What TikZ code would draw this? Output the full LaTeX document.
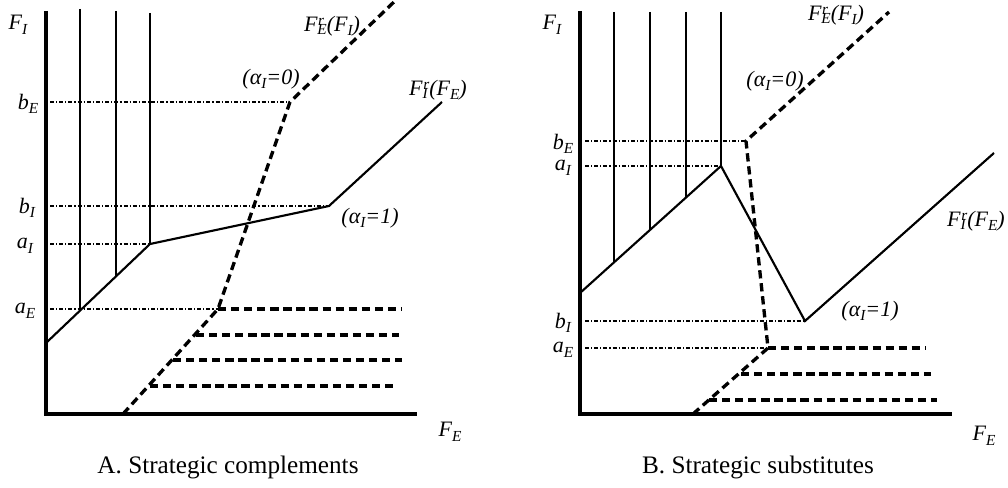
\documentclass[tikz,border=0pt]{standalone}
\usepackage{fontspec}
\setmainfont{Liberation Serif}
\newcommand\sub[1]{\raisebox{-0.45ex}{\fontsize{11.5}{13}\selectfont #1}}
\newcommand\subsup[2]{{\fontsize{11.5}{13}\selectfont\setbox0\hbox{\raisebox{-0.5ex}{#1}}\setbox2\hbox{\raisebox{0.8ex}{\kern0.5pt#2}}\ifdim\wd0>\wd2 \wd2=0pt\box2\box0\else\wd0=0pt\box0\box2\fi}}
\begin{document}
\begin{tikzpicture}[x=0.75pt,y=-0.75pt,
  axis/.style={line width=2.8pt},
  vline/.style={line width=1.5pt},
  solidcurve/.style={line width=1.6pt,line join=miter},
  dashcurve/.style={line width=2.5pt,dash pattern=on 6.2pt off 3.6pt},
  dashdotline/.style={line width=1pt,dash pattern=on 3pt off 1.5pt on 0.9pt off 1.5pt},
  lbl/.style={font=\fontsize{16.5}{19}\selectfont\itshape,inner sep=0pt},
  captionlbl/.style={font=\fontsize{18.9}{22}\selectfont,inner sep=0pt}]
\useasboundingbox (0,0) rectangle (1008,488);
% ---------------- Panel A ----------------
\coordinate (At) at (46,11);
\coordinate (Ao) at (46,414);
\coordinate (Ar) at (417,414);
\draw[axis] (At) -- (Ao) -- (Ar);
\coordinate (Av1t) at (80,9);   \coordinate (Av1b) at (80,310);
\coordinate (Av2t) at (116,11); \coordinate (Av2b) at (116,277);
\coordinate (Av3t) at (150,13); \coordinate (Av3b) at (150,244);
\draw[vline] (Av1t) -- (Av1b);
\draw[vline] (Av2t) -- (Av2b);
\draw[vline] (Av3t) -- (Av3b);
\coordinate (As0) at (46,343);
\coordinate (As1) at (150,244);
\coordinate (As2) at (329,206);
\coordinate (As3) at (442,102);
\draw[solidcurve] (As0) -- (As1) -- (As2) -- (As3);
\coordinate (AbE) at (50,102);
\coordinate (AbI) at (50,206);
\coordinate (AaI) at (50,244);
\coordinate (AaE) at (50,309);
\coordinate (Ad0) at (123,414);
\coordinate (Ad1) at (218,309);
\coordinate (Ad2) at (290,102);
\coordinate (Ad3) at (396,0);
\draw[dashdotline] (AbE) -- (Ad2);
\draw[dashdotline] (AbI) -- (As2);
\draw[dashdotline] (AaI) -- (As1);
\draw[dashdotline] (AaE) -- (Ad1);
\draw[dashcurve] (Ad0) -- (Ad1) -- (Ad2) -- (Ad3);
\coordinate (Ah1e) at (402,309);
\coordinate (Ah2s) at (196,335); \coordinate (Ah2e) at (399,335);
\coordinate (Ah3s) at (173,360); \coordinate (Ah3e) at (402,360);
\coordinate (Ah4s) at (150,386); \coordinate (Ah4e) at (396,386);
\draw[dashcurve] (Ad1) -- (Ah1e);
\draw[dashcurve] (Ah2s) -- (Ah2e);
\draw[dashcurve] (Ah3s) -- (Ah3e);
\draw[dashcurve] (Ah4s) -- (Ah4e);
\node[lbl] (AFI) at (18,25) {F\sub{I}};
\node[lbl] (AbEl) at (28,104) {b\sub{E}};
\node[lbl] (AbIl) at (27,208) {b\sub{I}};
\node[lbl] (AaIl) at (25,246) {a\sub{I}};
\node[lbl] (AaEl) at (25,311) {a\sub{E}};
\node[lbl] (Aal0) at (271,79) {(α\sub{I}=0)};
\node[lbl] (Aal1) at (370,218) {(α\sub{I}=1)};
\node[lbl] (AFEr) at (332,26) {F\subsup{E}{r}(F\sub{I})};
\node[lbl] (AFIr) at (438,90) {F\subsup{I}{r}(F\sub{E})};
\node[lbl] (AFE) at (450,432) {F\sub{E}};
\node[captionlbl] (Acap) at (228,467) {A. Strategic complements};
% ---------------- Panel B ----------------
\coordinate (Bt) at (580,11);
\coordinate (Bo) at (580,414);
\coordinate (Br) at (952,414);
\draw[axis] (Bt) -- (Bo) -- (Br);
\coordinate (Bv1t) at (614,12); \coordinate (Bv1b) at (614,263);
\coordinate (Bv2t) at (650,12); \coordinate (Bv2b) at (650,230);
\coordinate (Bv3t) at (686,12); \coordinate (Bv3b) at (686,198);
\coordinate (Bv4t) at (721,12); \coordinate (Bv4b) at (721,167);
\draw[vline] (Bv1t) -- (Bv1b);
\draw[vline] (Bv2t) -- (Bv2b);
\draw[vline] (Bv3t) -- (Bv3b);
\draw[vline] (Bv4t) -- (Bv4b);
\coordinate (Bs0) at (580,293);
\coordinate (Bs1) at (721,166);
\coordinate (Bs2) at (805,321);
\coordinate (Bs3) at (994,153);
\draw[solidcurve] (Bs0) -- (Bs1) -- (Bs2) -- (Bs3);
\coordinate (BbE) at (585,141);
\coordinate (BaI) at (585,166);
\coordinate (BbI) at (585,321);
\coordinate (BaE) at (585,348);
\coordinate (Bd0) at (693,414);
\coordinate (Bd1) at (768,348);
\coordinate (Bd2) at (746,141);
\coordinate (Bd3) at (889,12);
\draw[dashdotline] (BbE) -- (Bd2);
\draw[dashdotline] (BaI) -- (Bs1);
\draw[dashdotline] (BbI) -- (Bs2);
\draw[dashdotline] (BaE) -- (Bd1);
\draw[dashcurve] (Bd0) -- (Bd1) -- (Bd2) -- (Bd3);
\coordinate (Bh1e) at (925,348);
\coordinate (Bh2s) at (741,374); \coordinate (Bh2e) at (931,374);
\coordinate (Bh3s) at (709,400); \coordinate (Bh3e) at (937,400);
\draw[dashcurve] (Bd1) -- (Bh1e);
\draw[dashcurve] (Bh2s) -- (Bh2e);
\draw[dashcurve] (Bh3s) -- (Bh3e);
\node[lbl] (BFI) at (552,25) {F\sub{I}};
\node[lbl] (BbEl) at (563,144) {b\sub{E}};
\node[lbl] (BaIl) at (563,168) {a\sub{I}};
\node[lbl] (BbIl) at (563,323) {b\sub{I}};
\node[lbl] (BaEl) at (563,350) {a\sub{E}};
\node[lbl] (Bal0) at (775,81) {(α\sub{I}=0)};
\node[lbl] (Bal1) at (870,311) {(α\sub{I}=1)};
\node[lbl] (BFEr) at (836,15) {F\subsup{E}{r}(F\sub{I})};
\node[lbl] (BFIr) at (976,221) {F\subsup{I}{r}(F\sub{E})};
\node[lbl] (BFE) at (984,436) {F\sub{E}};
\node[captionlbl] (Bcap) at (758,467) {B. Strategic substitutes};
\end{tikzpicture}
\end{document}
